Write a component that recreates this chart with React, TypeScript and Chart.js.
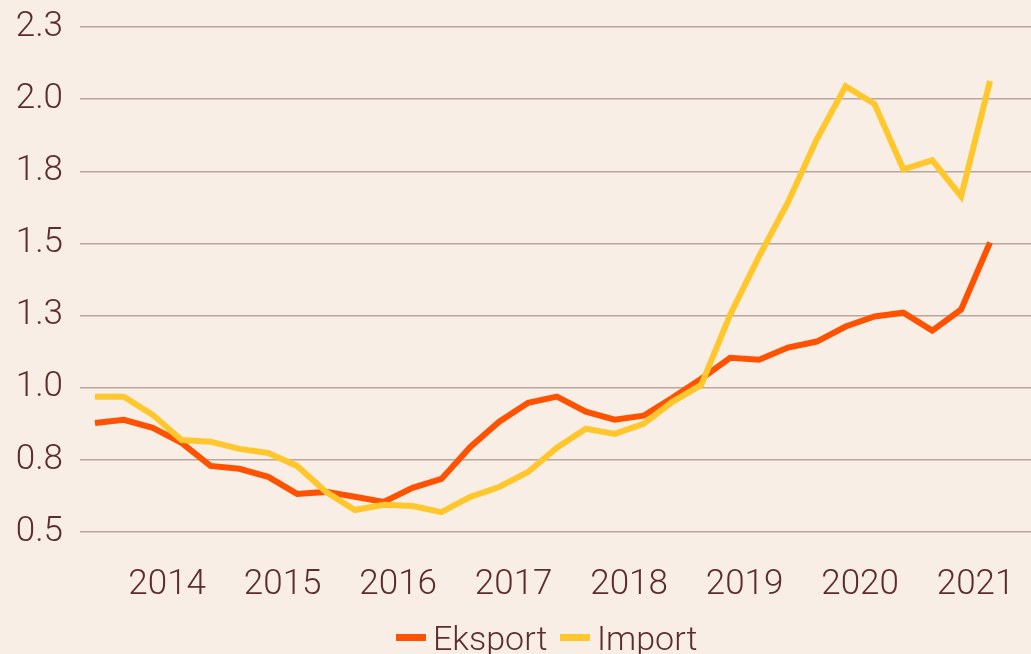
import React, { useEffect, useRef } from 'react';
import { Chart, registerables } from 'chart.js';

Chart.register(...registerables);

const quarters = [
  '2013K4',
  '2014K1', '2014K2', '2014K3', '2014K4',
  '2015K1', '2015K2', '2015K3', '2015K4',
  '2016K1', '2016K2', '2016K3', '2016K4',
  '2017K1', '2017K2', '2017K3', '2017K4',
  '2018K1', '2018K2', '2018K3', '2018K4',
  '2019K1', '2019K2', '2019K3', '2019K4',
  '2020K1', '2020K2', '2020K3', '2020K4',
  '2021K1', '2021K2', '2021K3',
];

const eksport = [
  0.878, 0.889, 0.861, 0.809, 0.729, 0.719, 0.691, 0.632,
  0.639, 0.622, 0.604, 0.653, 0.684, 0.795, 0.882, 0.948,
  0.969, 0.917, 0.889, 0.903, 0.965, 1.031, 1.104, 1.097,
  1.139, 1.160, 1.212, 1.247, 1.260, 1.198, 1.271, 1.503,
];

const importValues = [
  0.969, 0.969, 0.906, 0.819, 0.813, 0.788, 0.774, 0.729,
  0.639, 0.576, 0.594, 0.590, 0.569, 0.622, 0.656, 0.708,
  0.792, 0.858, 0.840, 0.875, 0.951, 1.010, 1.253, 1.455,
  1.642, 1.861, 2.045, 1.983, 1.757, 1.788, 1.663, 2.063,
];

const yearLabels = ['2014', '2015', '2016', '2017', '2018', '2019', '2020', '2021'];
const yTickLabels = ['0.5', '0.8', '1.0', '1.3', '1.5', '1.8', '2.0', '2.3'];

const seriesNames = ['Eksport', 'Import'];
const seriesColors = ['#ff5200', '#ffc72c'];

const BG = '#f9eee5';
const TEXT = '#5b2d2d';
const GRID = '#b9a69e';
const FONT = 'Roboto, "Noto Sans", sans-serif';

export default function App() {
  const canvasRef = useRef<HTMLCanvasElement | null>(null);

  useEffect(() => {
    if (!canvasRef.current) return;
    const toPoints = (arr: number[]) => arr.map((v, i) => ({ x: i, y: v }));
    // year label sits in the middle of its four quarters
    const firstYearStart = quarters.indexOf('2014K1');
    const yearCentre = (k: number) => firstYearStart + 4 * k + 1.5;

    const chart = new Chart(canvasRef.current, {
      type: 'line',
      data: {
        datasets: [
          {
            label: seriesNames[0],
            data: toPoints(eksport),
            borderColor: seriesColors[0],
            backgroundColor: seriesColors[0],
            borderWidth: 6,
            pointRadius: 0,
            tension: 0,
            order: 1,
          },
          {
            label: seriesNames[1],
            data: toPoints(importValues),
            borderColor: seriesColors[1],
            backgroundColor: seriesColors[1],
            borderWidth: 6,
            pointRadius: 0,
            tension: 0,
            order: 0,
          },
        ],
      },
      options: {
        responsive: false,
        animation: false,
        devicePixelRatio: 1,
        layout: { padding: { top: 27, right: 0, bottom: 42, left: 0 } },
        plugins: {
          legend: { display: false },
          tooltip: { enabled: false },
        },
        scales: {
          x: {
            type: 'linear',
            min: -0.52,
            max: 32.42,
            grid: { display: false, drawTicks: false },
            border: { display: false },
            afterBuildTicks: (scale: any) => {
              scale.ticks = yearLabels.map((_, k) => ({ value: yearCentre(k) }));
            },
            afterFit: (scale: any) => {
              scale.height = 80;
              scale.paddingLeft = 0;
              scale.paddingRight = 0;
            },
            ticks: {
              autoSkip: false,
              maxRotation: 0,
              padding: 32,
              color: TEXT,
              font: { family: FONT, size: 35, weight: '300' },
              callback: (_v: any, idx: number) => yearLabels[idx],
            },
          },
          y: {
            min: 0.5,
            max: 2.25,
            grid: { color: GRID, lineWidth: 1.5, drawTicks: false },
            border: { display: false },
            afterFit: (scale: any) => {
              scale.width = 80;
              scale.paddingTop = 0;
              scale.paddingBottom = 0;
            },
            ticks: {
              stepSize: 0.25,
              padding: 17,
              color: TEXT,
              font: { family: FONT, size: 35, weight: '300' },
              callback: (_v: any, idx: number) => yTickLabels[idx],
            },
          },
        },
      },
    } as any);
    return () => chart.destroy();
  }, []);

  const legendItem = (i: number, left: number) => (
    <div
      key={i}
      style={{ position: 'absolute', left, top: 618, height: 40, display: 'flex', alignItems: 'flex-start' }}
    >
      <div style={{ width: 30, height: 7, background: seriesColors[i], marginTop: 16, marginRight: 7 }} />
      <span style={{ fontFamily: FONT, fontWeight: 300, fontSize: 34, lineHeight: '40px', color: TEXT }}>
        {seriesNames[i]}
      </span>
    </div>
  );

  return (
    <div
      style={{
        position: 'fixed',
        left: 0,
        top: 0,
        width: 1031,
        height: 654,
        background: BG,
        overflow: 'hidden',
      }}
    >
      <canvas ref={canvasRef} width={1031} height={654} style={{ position: 'absolute', left: 0, top: 0, width: 1031, height: 654 }} />
      <div style={{ position: 'absolute', left: 0, top: 0, width: 1031, height: 654 }}>
        {legendItem(0, 396)}
        {legendItem(1, 560)}
      </div>
    </div>
  );
}
